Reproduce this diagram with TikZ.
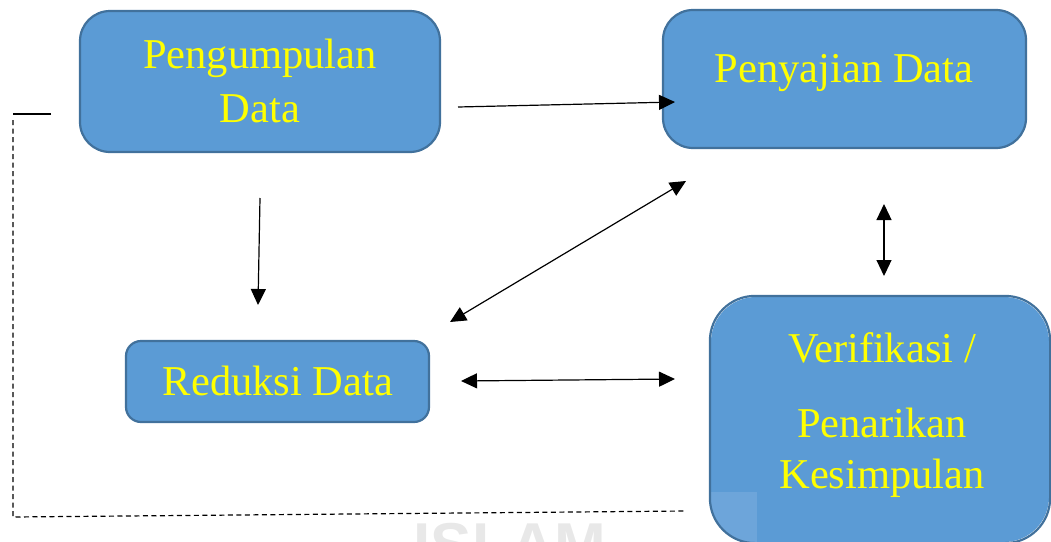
\documentclass[tikz,border=0pt]{standalone}
\usepackage{fontspec}
\setmainfont{Liberation Serif}
\newfontfamily\markfont{Liberation Sans}
\usetikzlibrary{arrows.meta}

\definecolor{boxfill}{HTML}{5B9BD5}
\definecolor{boxline}{HTML}{41719C}
\definecolor{labelyellow}{HTML}{FFFF00}
\definecolor{patchblue}{HTML}{6DA5DA}
\definecolor{markgray}{HTML}{E8E8E8}

\begin{document}
\begin{tikzpicture}[x=1pt,y=-1pt,
  stage/.style={draw=boxline, fill=boxfill, line width=2.2pt, inner sep=0pt},
  label/.style={text=labelyellow, font=\fontsize{42.5}{50}\selectfont, anchor=base, inner sep=0pt},
  tip/.tip={Triangle[length=16pt,width=15pt]},
  link/.style={line width=1.2pt, -tip},
  both/.style={line width=1.2pt, tip-tip},
  loopline/.style={line width=1.2pt, dash pattern=on 5pt off 3.5pt}]

\useasboundingbox (0,0) rectangle (1051,541);

% faint logo mark along the bottom edge
\draw[markgray, line width=9pt] (344,550) arc[start angle=180, end angle=360, x radius=180pt, y radius=34pt];
\node[text=markgray, font=\markfont\bfseries\fontsize{62}{70}\selectfont, anchor=base, inner sep=0pt] (mark) at (510,566) {ISLAM};

% stages
\node[stage, rounded corners=30pt, minimum width=360pt, minimum height=141pt] (collect) at (260,81.5) {};
\node[stage, rounded corners=30pt, minimum width=363pt, minimum height=138pt] (display) at (844.5,79) {};
\node[stage, rounded corners=15pt, minimum width=303pt, minimum height=81pt] (reduce) at (277.5,381.5) {};
\node[stage, draw=none, rounded corners=45pt, minimum width=338pt, minimum height=245pt] (verify) at (880,419.5) {};
\begin{scope}
  \clip[rounded corners=45pt] (verify.north west) rectangle (verify.south east);
  \fill[patchblue] (711,492) rectangle (757,545);
\end{scope}
\draw[boxline, line width=2.2pt, rounded corners=45pt] (verify.north west) rectangle (verify.south east);

% labels
\node[label] (collectA) at (260,68) {Pengumpulan};
\node[label] (collectB) at (260,122) {Data};
\node[label] (displayA) at (844,82) {Penyajian Data};
\node[label] (reduceA) at (278,395) {Reduksi Data};
\node[label] (verifyA) at (882,362) {Verifikasi /};
\node[label] (verifyB) at (882,437) {Penarikan};
\node[label] (verifyC) at (882,488) {Kesimpulan};

% connector ends
\coordinate (c1) at (458,107);
\coordinate (d1) at (675,102);
\coordinate (c2) at (260,198);
\coordinate (r2) at (258,305);
\coordinate (r3) at (450,322);
\coordinate (d3) at (686,181);
\coordinate (r4) at (461,381);
\coordinate (v4) at (675,379);
\coordinate (d5) at (884,204);
\coordinate (v5) at (884,276);
\coordinate (loopStart) at (51,114);
\coordinate (loopCorner) at (13,114);
\coordinate (loopLow) at (13,517);
\coordinate (loopEnd) at (686,511);

% connectors
\draw[link] (c1) -- (d1);
\draw[link] (c2) -- (r2);
\draw[both] (r3) -- (d3);
\draw[both] (r4) -- (v4);
\draw[both] (d5) -- (v5);

% feedback loop
\draw[line width=1.2pt] (loopStart) -- (loopCorner);
\draw[loopline] (loopCorner) ++(0,6) -- (loopLow) -- (loopEnd);
\end{tikzpicture}
\end{document}
